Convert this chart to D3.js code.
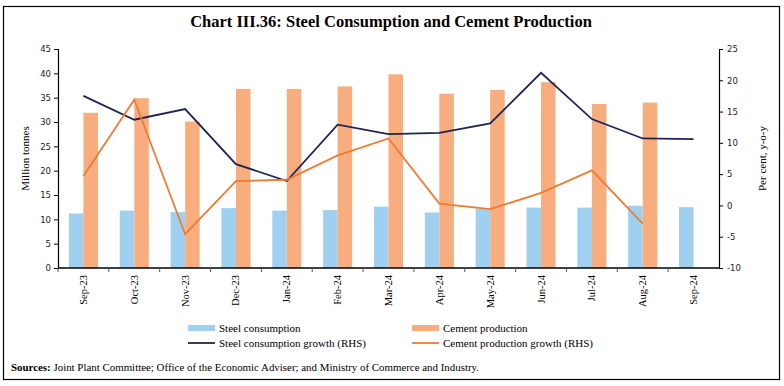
<!DOCTYPE html>
<html>
<head>
<meta charset="utf-8">
<script src="https://cdn.jsdelivr.net/npm/d3@7"></script>
<style>
  body { margin: 0; background: #fff; }
  svg { display: block; }
  .tick text { font-family: "DejaVu Sans", Verdana, sans-serif; font-size: 8.5px; fill: #222; }
</style>
</head>
<body>
<svg id="chart" width="784" height="386"></svg>
<script>
// months on the x axis
const months = ["Sep-23", "Oct-23", "Nov-23", "Dec-23", "Jan-24", "Feb-24", "Mar-24",
  "Apr-24", "May-24", "Jun-24", "Jul-24", "Aug-24", "Sep-24"];

// million tonnes (LHS)
const steelConsumption = [11.2, 11.8, 11.5, 12.3, 11.8, 11.9, 12.6, 11.4, 12.2, 12.4, 12.4, 12.8, 12.5];
const cementProduction = [31.9, 34.9, 30.1, 36.8, 36.8, 37.3, 39.8, 35.8, 36.6, 38.2, 33.7, 34.0, null];

// per cent, y-o-y (RHS)
const steelGrowth = [17.5, 13.7, 15.4, 6.6, 3.9, 12.9, 11.4, 11.6, 13.1, 21.2, 13.8, 10.7, 10.6];
const cementGrowth = [4.7, 16.9, -4.6, 3.9, 4.1, 8.0, 10.7, 0.3, -0.6, 2.0, 5.6, -2.9, null];

const leftTicks = [0, 5, 10, 15, 20, 25, 30, 35, 40, 45];
const rightTicks = [-10, -5, 0, 5, 10, 15, 20, 25];

const colors = {
  steel: "#9fd0f0",
  cement: "#f8ad7f",
  steelLine: "#1f2453",
  cementLine: "#ee7b33"
};

const margin = { left: 58, right: 719, top: 49, bottom: 268 };
const serif = "'Liberation Serif', 'DejaVu Serif', serif";

const svg = d3.select("#chart");

// frame
svg.append("rect")
  .attr("x", 3.5).attr("y", 6.5)
  .attr("width", 776).attr("height", 373)
  .attr("fill", "none").attr("stroke", "#000").attr("stroke-width", 1.2);

// title
svg.append("text")
  .attr("x", 391).attr("y", 27)
  .attr("text-anchor", "middle")
  .style("font-family", serif)
  .style("font-size", "16.5px")
  .style("font-weight", "bold")
  .text("Chart III.36: Steel Consumption and Cement Production");

// scales
const x = d3.scaleBand()
  .domain(months)
  .range([margin.left, margin.right]);

const xPair = d3.scaleBand()
  .domain(["steel", "cement"])
  .range([0, x.bandwidth()])
  .paddingOuter(0.75)
  .paddingInner(0);

const yLeft = d3.scaleLinear().domain([0, 45]).range([margin.bottom, margin.top]);
const yRight = d3.scaleLinear().domain([-10, 25]).range([margin.bottom, margin.top]);

// bars
const barData = months.map((m, i) => ({ m, steel: steelConsumption[i], cement: cementProduction[i] }));

const groups = svg.append("g").selectAll("g")
  .data(barData)
  .join("g")
  .attr("transform", d => `translate(${x(d.m)},0)`);

groups.selectAll("rect")
  .data(d => ["steel", "cement"].filter(k => d[k] != null).map(k => ({ k, v: d[k] })))
  .join("rect")
  .attr("x", d => xPair(d.k))
  .attr("width", xPair.bandwidth())
  .attr("y", d => yLeft(d.v))
  .attr("height", d => yLeft(0) - yLeft(d.v))
  .attr("fill", d => colors[d.k]);

// lines
const lineGen = d3.line()
  .defined(d => d.v != null)
  .x(d => x(d.m) + x.bandwidth() / 2)
  .y(d => yRight(d.v));

svg.append("path")
  .datum(months.map((m, i) => ({ m, v: steelGrowth[i] })))
  .attr("d", lineGen)
  .attr("fill", "none")
  .attr("stroke", colors.steelLine)
  .attr("stroke-width", 1.8);

svg.append("path")
  .datum(months.map((m, i) => ({ m, v: cementGrowth[i] })))
  .attr("d", lineGen)
  .attr("fill", "none")
  .attr("stroke", colors.cementLine)
  .attr("stroke-width", 1.8);

// axes
const leftAxis = d3.axisLeft(yLeft).tickValues(leftTicks).tickSize(4).tickPadding(3)
  .tickFormat(d => String(d));
svg.append("g")
  .attr("transform", `translate(${margin.left},0)`)
  .call(leftAxis)
  .call(g => g.select(".domain").attr("stroke-width", 1.2));

const rightAxis = d3.axisRight(yRight).tickValues(rightTicks).tickSize(4).tickPadding(4)
  .tickFormat(d => String(d));
svg.append("g")
  .attr("transform", `translate(${margin.right},0)`)
  .call(rightAxis)
  .call(g => g.select(".domain").attr("stroke-width", 1.2));

// bottom axis: ticks on category boundaries
const bottom = svg.append("g");
bottom.append("line")
  .attr("x1", margin.left).attr("x2", margin.right)
  .attr("y1", margin.bottom).attr("y2", margin.bottom)
  .attr("stroke", "#000").attr("stroke-width", 1.4);

bottom.selectAll("line.tk")
  .data(months)
  .join("line")
  .attr("class", "tk")
  .attr("x1", d => x(d)).attr("x2", d => x(d))
  .attr("y1", margin.bottom).attr("y2", margin.bottom + 4)
  .attr("stroke", "#555");

bottom.selectAll("text")
  .data(months)
  .join("text")
  .attr("transform", d => `translate(${x(d) + x.bandwidth() / 2 + 3.5},${margin.bottom + 7}) rotate(-90)`)
  .attr("text-anchor", "end")
  .style("font-family", serif)
  .style("font-size", "10.5px")
  .text(d => d);

// axis titles
svg.append("text")
  .attr("transform", `translate(29,${(margin.top + margin.bottom) / 2}) rotate(-90)`)
  .attr("text-anchor", "middle")
  .style("font-family", serif)
  .style("font-size", "11px")
  .text("Million tonnes");

svg.append("text")
  .attr("transform", `translate(766,${(margin.top + margin.bottom) / 2}) rotate(-90)`)
  .attr("text-anchor", "middle")
  .style("font-family", serif)
  .style("font-size", "11px")
  .text("Per cent, y-o-y");

// legend
const legendItems = [
  { label: "Steel consumption", type: "bar", color: colors.steel, x: 188, y: 328 },
  { label: "Cement production", type: "bar", color: colors.cement, x: 412, y: 328 },
  { label: "Steel consumption growth (RHS)", type: "line", color: colors.steelLine, x: 188, y: 343 },
  { label: "Cement production growth (RHS)", type: "line", color: colors.cementLine, x: 412, y: 343 }
];

const legend = svg.append("g").selectAll("g")
  .data(legendItems)
  .join("g")
  .attr("transform", d => `translate(${d.x},${d.y})`);

legend.filter(d => d.type === "bar").append("rect")
  .attr("x", 0).attr("y", -3).attr("width", 27).attr("height", 6)
  .attr("fill", d => d.color);

legend.filter(d => d.type === "line").append("line")
  .attr("x1", 0).attr("x2", 27).attr("y1", 0).attr("y2", 0)
  .attr("stroke", d => d.color).attr("stroke-width", 1.8);

legend.append("text")
  .attr("x", 31).attr("y", 3.5)
  .style("font-family", serif)
  .style("font-size", "11px")
  .text(d => d.label);

// sources
const src = svg.append("text")
  .attr("x", 11).attr("y", 371)
  .style("font-family", serif)
  .style("font-size", "10.9px");
src.append("tspan").style("font-weight", "bold").text("Sources:");
src.append("tspan").text(" Joint Plant Committee; Office of the Economic Adviser; and Ministry of Commerce and Industry.");
</script>
</body>
</html>
